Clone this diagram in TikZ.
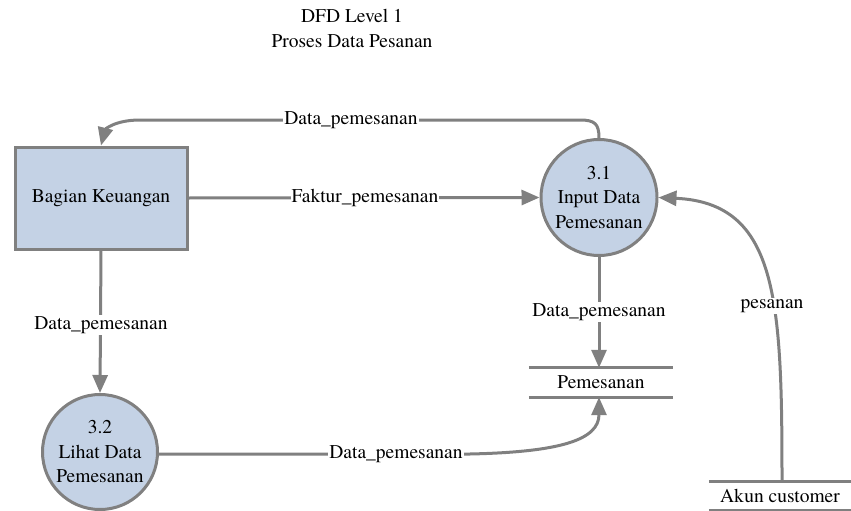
\documentclass[tikz,border=0pt]{standalone}
\usepackage{fontspec}
\newfontfamily\dfdfont{texgyretermes}[Extension=.otf, UprightFont=*-regular]
\usetikzlibrary{arrows.meta}
\definecolor{boxfill}{HTML}{C4D2E5}
\definecolor{lin}{HTML}{808080}
\tikzset{
  txt/.style={font=\dfdfont\fontsize{19.5}{24.5}\selectfont},
  entity/.style={txt, draw=lin, fill=boxfill, line width=3pt, minimum width=172pt, minimum height=102pt, inner sep=0pt},
  proc/.style={txt, circle, draw=lin, fill=boxfill, line width=3pt, minimum size=116pt, inner sep=0pt, align=center},
  store/.style={txt, minimum height=29pt, inner sep=0pt},
  storeline/.style={draw=lin, line width=3pt},
  flow/.style={draw=lin, line width=3pt, -{Triangle[length=18pt,width=15pt]}},
  flowlabel/.style={txt, fill=white, inner sep=1pt}
}
\begin{document}
\begin{tikzpicture}[x=1pt,y=-1pt]
\useasboundingbox (0,0) rectangle (851,511);
% title
\node[txt] (t1) at (352,16) {DFD Level 1};
\node[txt] (t2) at (352,41) {Proses Data Pesanan};
% nodes
\node[entity] (bk) at (101,198) {Bagian Keuangan};
\node[proc] (p31) at (599,197.5) {3.1\\Input Data\\Pemesanan};
\node[proc, minimum size=115pt] (p32) at (100,452) {3.2\\Lihat Data\\Pemesanan};
\node[store, minimum width=144pt] (s1) at (601,382.5) {Pemesanan};
\draw[storeline] (s1.north west) -- (s1.north east);
\draw[storeline] (s1.south west) -- (s1.south east);
\node[store, minimum width=142pt] (s2) at (780,496) {Akun customer};
\draw[storeline] (s2.north west) -- (s2.north east);
\draw[storeline] (s2.south west) -- (s2.south east);
\coordinate (s1top) at (p31.south |- s1.north);
\coordinate (s1bot) at (p31.south |- s1.south);
\coordinate (s2top) at (782,482);
\coordinate (c1) at (580,120);
\coordinate (c2) at (140,120);
% flows
\draw[flow] (p31.north) .. controls (599,124) and (595,120) .. (c1) -- (c2)
  .. controls (114,120) and (105,130) .. (bk.north);
\node[flowlabel] (l1) at (351,120) {Data\_pemesanan};
\draw[flow] (bk.east) -- (p31.west);
\node[flowlabel] (l2) at (365,198) {Faktur\_pemesanan};
\draw[flow] (bk.south) -- (p32.north);
\node[flowlabel] (l3) at (101,325) {Data\_pemesanan};
\draw[flow] (p31.south) -- (s1top);
\node[flowlabel] (l4) at (599,312) {Data\_pemesanan};
\draw[flow] (p32.east |- 0,454) -- (470,454) .. controls (560,452) and (599,440) .. (s1bot);
\node[flowlabel] (l5) at (396,454) {Data\_pemesanan};
\draw[flow] (s2top) .. controls (782,300) and (778,203) .. (p31.east);
\node[flowlabel] (l6) at (772,306) {pesanan};
\end{tikzpicture}
\end{document}
